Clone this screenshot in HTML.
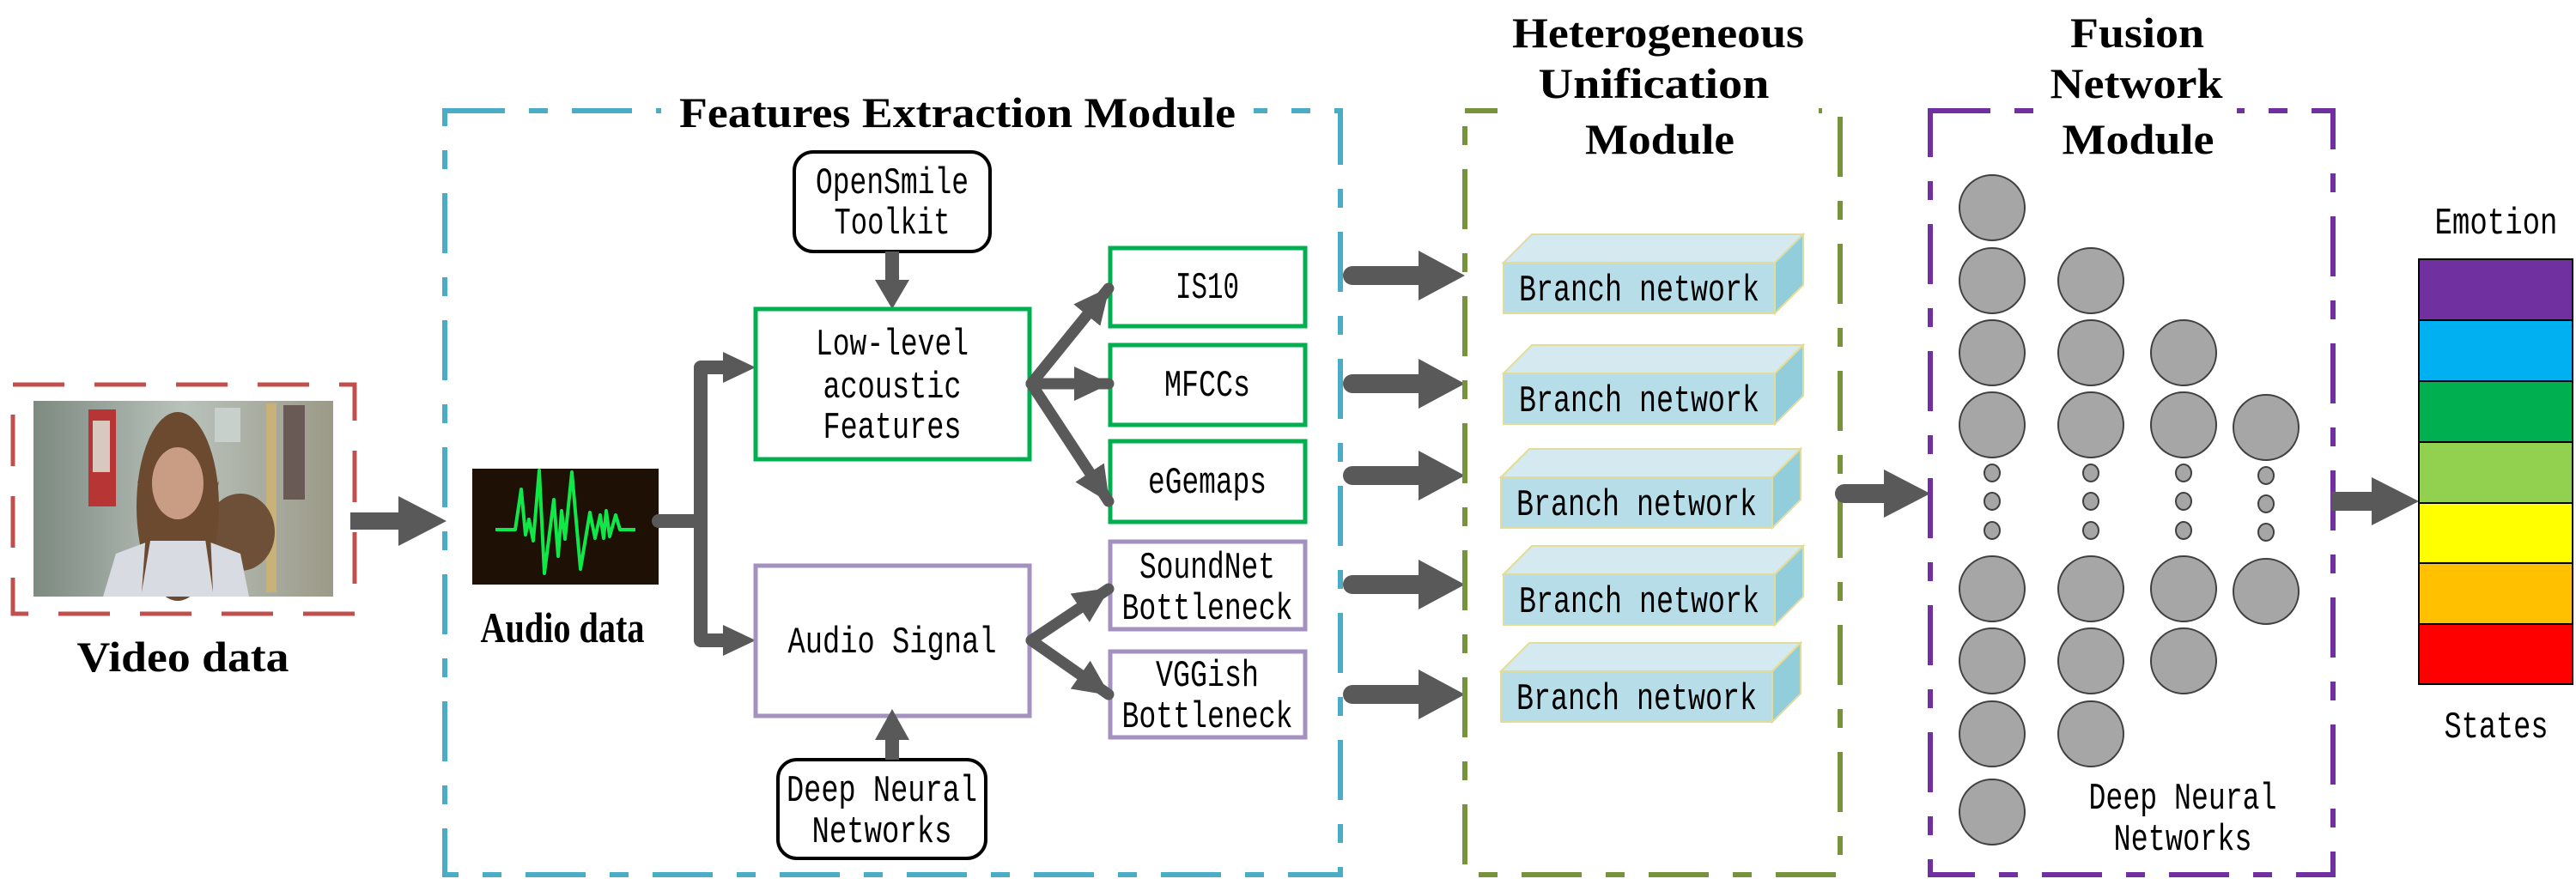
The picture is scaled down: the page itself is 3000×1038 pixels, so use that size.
<!DOCTYPE html>
<html><head><meta charset="utf-8"><style>
html,body{margin:0;padding:0;background:#fff;}
svg{display:block;}
.m{font-family:"Liberation Mono",monospace;font-size:44px;fill:#000;}
.b{font-family:"Liberation Serif",serif;font-weight:bold;font-size:50px;fill:#000;}
</style></head><body>
<svg width="3000" height="1038" viewBox="0 0 3000 1038" xmlns="http://www.w3.org/2000/svg">
<defs>
<marker id="ah" markerUnits="userSpaceOnUse" markerWidth="44" markerHeight="40" refX="40" refY="20" orient="auto">
<path d="M0,0 L42,20 L0,40 z" fill="#595959"/>
</marker>
<linearGradient id="bg" x1="0" x2="1"><stop offset="0" stop-color="#7d8a80"/><stop offset="0.5" stop-color="#b8c2bb"/><stop offset="1" stop-color="#9c9a88"/></linearGradient>
</defs>

<!-- Video -->
<rect x="15" y="448" width="398" height="267" fill="none" stroke="#c0504d" stroke-width="5" stroke-dasharray="60 35"/>
<rect x="39" y="467" width="349" height="228" fill="url(#bg)"/>
<rect x="103" y="477" width="32" height="113" fill="#b83535"/>
<rect x="108" y="490" width="20" height="60" fill="#d9c8c0"/>
<rect x="250" y="475" width="30" height="40" fill="#c8d0cc"/>
<rect x="330" y="472" width="25" height="110" fill="#6a5a55"/>
<rect x="310" y="470" width="12" height="220" fill="#c9b27a"/>
<ellipse cx="280" cy="620" rx="40" ry="45" fill="#6e5038"/>
<ellipse cx="207" cy="590" rx="48" ry="110" fill="#6b4a30"/>
<path d="M120,695 L135,645 L175,630 L240,630 L280,645 L290,695 z" fill="#d8dbe2"/>
<path d="M165,690 L170,620 L160,560 L180,600 z M248,690 L245,620 L255,560 L235,600 z" fill="#6b4a30"/>
<ellipse cx="207" cy="563" rx="30" ry="42" fill="#c99c84"/>
<text class="b" x="213" y="782" text-anchor="middle" textLength="247" lengthAdjust="spacingAndGlyphs" font-size="54">Video data</text>

<!-- video arrow -->
<polygon points="408,597 464,597 464,578 520,607 464,636 464,617 408,617" fill="#595959"/>

<!-- Features box -->
<rect x="518" y="129" width="1043" height="890" fill="none" stroke="#4bacc6" stroke-width="6" stroke-dasharray="70 28 22 28"/>
<rect x="770" y="100" width="690" height="60" fill="#fff"/>
<text class="b" x="1115" y="148" text-anchor="middle" textLength="648" lengthAdjust="spacingAndGlyphs" font-size="52">Features Extraction Module</text>

<!-- Audio image -->
<rect x="550" y="546" width="217" height="135" fill="#1e1004"/>
<polyline points="577,617 600,617 607,570 612,623 616,605 621,630 628,548 634,668 645,582 650,648 654,595 658,628 666,550 676,663 687,597 693,627 699,600 703,627 706,595 710,625 717,600 722,617 740,617" fill="none" stroke="#10e848" stroke-width="4" stroke-linejoin="round"/>
<text class="b" x="655" y="748" text-anchor="middle" textLength="191" lengthAdjust="spacingAndGlyphs" font-size="40">Audio data</text>

<!-- audio branch -->
<path d="M767,607 H816 M816,428 V746 M816,428 H845 M816,746 H845" fill="none" stroke="#595959" stroke-width="16" stroke-linecap="round"/>
<polygon points="842,410 880,428 842,446" fill="#595959"/>
<polygon points="842,728 880,746 842,764" fill="#595959"/>

<!-- OpenSmile -->
<rect x="925" y="177" width="228" height="116" rx="22" fill="#fff" stroke="#000" stroke-width="4"/>
<text class="m" x="1039" y="225" text-anchor="middle" textLength="178" lengthAdjust="spacingAndGlyphs">OpenSmile</text>
<text class="m" x="1039" y="272" text-anchor="middle" textLength="135" lengthAdjust="spacingAndGlyphs">Toolkit</text>
<rect x="1031" y="293" width="16" height="35" fill="#595959"/>
<polygon points="1019,326 1059,326 1039,360" fill="#595959"/>

<!-- Low-level -->
<rect x="880" y="360" width="319" height="175" fill="#fff" stroke="#00b050" stroke-width="5"/>
<text class="m" x="1039" y="413" text-anchor="middle" textLength="178" lengthAdjust="spacingAndGlyphs">Low-level</text>
<text class="m" x="1039" y="463" text-anchor="middle" textLength="161" lengthAdjust="spacingAndGlyphs">acoustic</text>
<text class="m" x="1039" y="510" text-anchor="middle" textLength="161" lengthAdjust="spacingAndGlyphs">Features</text>

<!-- Audio Signal -->
<rect x="880" y="659" width="319" height="175" fill="#fff" stroke="#a391c0" stroke-width="5"/>
<text class="m" x="1039" y="760" text-anchor="middle" textLength="243" lengthAdjust="spacingAndGlyphs">Audio Signal</text>

<!-- DNN box -->
<rect x="906" y="885" width="242" height="115" rx="22" fill="#fff" stroke="#000" stroke-width="4"/>
<text class="m" x="1027" y="933" text-anchor="middle" textLength="222" lengthAdjust="spacingAndGlyphs">Deep Neural</text>
<text class="m" x="1027" y="981" text-anchor="middle" textLength="163" lengthAdjust="spacingAndGlyphs">Networks</text>
<rect x="1031" y="860" width="16" height="25" fill="#595959"/>
<polygon points="1019,862 1059,862 1039,826" fill="#595959"/>

<!-- right feature boxes -->
<g fill="#fff" stroke-width="5">
<rect x="1293" y="289" width="227" height="91" stroke="#00b050"/>
<rect x="1293" y="402" width="227" height="93" stroke="#00b050"/>
<rect x="1293" y="514" width="227" height="94" stroke="#00b050"/>
<rect x="1293" y="631" width="227" height="102" stroke="#a391c0"/>
<rect x="1293" y="759" width="227" height="100" stroke="#a391c0"/>
</g>
<text class="m" x="1406" y="347" text-anchor="middle" textLength="74" lengthAdjust="spacingAndGlyphs">IS10</text>
<text class="m" x="1406" y="461" text-anchor="middle" textLength="100" lengthAdjust="spacingAndGlyphs">MFCCs</text>
<text class="m" x="1406" y="574" text-anchor="middle" textLength="138" lengthAdjust="spacingAndGlyphs">eGemaps</text>
<text class="m" x="1406" y="673" text-anchor="middle" textLength="158" lengthAdjust="spacingAndGlyphs">SoundNet</text>
<text class="m" x="1406" y="721" text-anchor="middle" textLength="199" lengthAdjust="spacingAndGlyphs">Bottleneck</text>
<text class="m" x="1406" y="799" text-anchor="middle" textLength="120" lengthAdjust="spacingAndGlyphs">VGGish</text>
<text class="m" x="1406" y="847" text-anchor="middle" textLength="199" lengthAdjust="spacingAndGlyphs">Bottleneck</text>

<!-- fork arrows -->
<g stroke="#595959" stroke-width="13" stroke-linecap="round" marker-end="url(#ah)">
<line x1="1201" y1="447" x2="1291" y2="336"/>
<line x1="1201" y1="447" x2="1291" y2="447"/>
<line x1="1201" y1="447" x2="1291" y2="584"/>
<line x1="1201" y1="746" x2="1291" y2="686"/>
<line x1="1201" y1="746" x2="1291" y2="809"/>
</g>

<!-- arrows to branch -->
<g fill="#595959">
<polygon points="1575,310 1652,310 1652,292 1706,321 1652,350 1652,332 1575,332"/>
<polygon points="1575,436 1652,436 1652,418 1706,447 1652,476 1652,458 1575,458"/>
<polygon points="1575,543 1652,543 1652,525 1706,554 1652,583 1652,565 1575,565"/>
<polygon points="1575,670 1652,670 1652,652 1706,681 1652,710 1652,692 1575,692"/>
<polygon points="1575,798 1652,798 1652,780 1706,809 1652,838 1652,820 1575,820"/>
<circle cx="1575" cy="321" r="11"/><circle cx="1575" cy="447" r="11"/><circle cx="1575" cy="554" r="11"/><circle cx="1575" cy="681" r="11"/><circle cx="1575" cy="809" r="11"/>
</g>

<!-- Hetero box -->
<rect x="1706" y="129" width="437" height="890" fill="none" stroke="#77933c" stroke-width="6" stroke-dasharray="70 28 22 28"/>
<rect x="1744" y="110" width="374" height="40" fill="#fff"/>
<text class="b" x="1931" y="55" text-anchor="middle" textLength="340" lengthAdjust="spacingAndGlyphs">Heterogeneous</text>
<text class="b" x="1926" y="114" text-anchor="middle" textLength="269" lengthAdjust="spacingAndGlyphs">Unification</text>
<text class="b" x="1933" y="179" text-anchor="middle" textLength="174" lengthAdjust="spacingAndGlyphs">Module</text>

<!-- branch boxes -->
<g stroke="#e2dc9a" stroke-width="2">
<g transform="translate(0,0)">
<polygon points="1751,306 1784,273 2100,273 2067,306" fill="#d4e9f0"/>
<polygon points="2067,306 2100,273 2100,332 2067,365" fill="#92cddc"/>
<rect x="1751" y="306" width="316" height="59" fill="#b7dde8"/>
</g>
<g transform="translate(0,129)">
<polygon points="1751,306 1784,273 2100,273 2067,306" fill="#d4e9f0"/>
<polygon points="2067,306 2100,273 2100,332 2067,365" fill="#92cddc"/>
<rect x="1751" y="306" width="316" height="59" fill="#b7dde8"/>
</g>
<g transform="translate(-3,250)">
<polygon points="1751,306 1784,273 2100,273 2067,306" fill="#d4e9f0"/>
<polygon points="2067,306 2100,273 2100,332 2067,365" fill="#92cddc"/>
<rect x="1751" y="306" width="316" height="59" fill="#b7dde8"/>
</g>
<g transform="translate(0,363)">
<polygon points="1751,306 1784,273 2100,273 2067,306" fill="#d4e9f0"/>
<polygon points="2067,306 2100,273 2100,332 2067,365" fill="#92cddc"/>
<rect x="1751" y="306" width="316" height="59" fill="#b7dde8"/>
</g>
<g transform="translate(-3,476)">
<polygon points="1751,306 1784,273 2100,273 2067,306" fill="#d4e9f0"/>
<polygon points="2067,306 2100,273 2100,332 2067,365" fill="#92cddc"/>
<rect x="1751" y="306" width="316" height="59" fill="#b7dde8"/>
</g>
</g>
<text class="m" x="1909" y="350" text-anchor="middle" textLength="280" lengthAdjust="spacingAndGlyphs">Branch network</text>
<text class="m" x="1909" y="479" text-anchor="middle" textLength="280" lengthAdjust="spacingAndGlyphs">Branch network</text>
<text class="m" x="1906" y="600" text-anchor="middle" textLength="280" lengthAdjust="spacingAndGlyphs">Branch network</text>
<text class="m" x="1909" y="713" text-anchor="middle" textLength="280" lengthAdjust="spacingAndGlyphs">Branch network</text>
<text class="m" x="1906" y="826" text-anchor="middle" textLength="280" lengthAdjust="spacingAndGlyphs">Branch network</text>

<!-- arrow to fusion -->
<polygon points="2147,564 2194,564 2194,547 2248,575 2194,603 2194,586 2147,586" fill="#595959"/>
<circle cx="2148" cy="575" r="11" fill="#595959"/>

<!-- Fusion box -->
<rect x="2248" y="129" width="469" height="890" fill="none" stroke="#7030a0" stroke-width="6" stroke-dasharray="70 28 22 28"/>
<rect x="2370" y="110" width="235" height="40" fill="#fff"/>
<text class="b" x="2489" y="55" text-anchor="middle" textLength="156" lengthAdjust="spacingAndGlyphs">Fusion</text>
<text class="b" x="2488" y="114" text-anchor="middle" textLength="201" lengthAdjust="spacingAndGlyphs">Network</text>
<text class="b" x="2490" y="179" text-anchor="middle" textLength="177" lengthAdjust="spacingAndGlyphs">Module</text>

<g fill="#a6a6a6" stroke="#404040" stroke-width="2">
<ellipse cx="2320" cy="242" rx="38" ry="38"/>
<ellipse cx="2320" cy="327" rx="38" ry="38"/>
<ellipse cx="2320" cy="411" rx="38" ry="38"/>
<ellipse cx="2320" cy="495" rx="38" ry="38"/>
<ellipse cx="2320" cy="686" rx="38" ry="38"/>
<ellipse cx="2320" cy="770" rx="38" ry="38"/>
<ellipse cx="2320" cy="855" rx="38" ry="38"/>
<ellipse cx="2320" cy="946" rx="38" ry="38"/>
<ellipse cx="2435" cy="327" rx="38" ry="38"/>
<ellipse cx="2435" cy="411" rx="38" ry="38"/>
<ellipse cx="2435" cy="495" rx="38" ry="38"/>
<ellipse cx="2435" cy="686" rx="38" ry="38"/>
<ellipse cx="2435" cy="770" rx="38" ry="38"/>
<ellipse cx="2435" cy="855" rx="38" ry="38"/>
<ellipse cx="2543" cy="411" rx="38" ry="38"/>
<ellipse cx="2543" cy="495" rx="38" ry="38"/>
<ellipse cx="2543" cy="686" rx="38" ry="38"/>
<ellipse cx="2543" cy="770" rx="38" ry="38"/>
<ellipse cx="2639" cy="498" rx="38" ry="38"/>
<ellipse cx="2639" cy="689" rx="38" ry="38"/>
<ellipse cx="2320" cy="551" rx="9" ry="10"/><ellipse cx="2320" cy="584" rx="9" ry="10"/><ellipse cx="2320" cy="618" rx="9" ry="10"/>
<ellipse cx="2435" cy="551" rx="9" ry="10"/><ellipse cx="2435" cy="584" rx="9" ry="10"/><ellipse cx="2435" cy="618" rx="9" ry="10"/>
<ellipse cx="2543" cy="551" rx="9" ry="10"/><ellipse cx="2543" cy="584" rx="9" ry="10"/><ellipse cx="2543" cy="618" rx="9" ry="10"/>
<ellipse cx="2639" cy="554" rx="9" ry="10"/><ellipse cx="2639" cy="587" rx="9" ry="10"/><ellipse cx="2639" cy="620" rx="9" ry="10"/>
</g>
<text class="m" x="2542" y="942" text-anchor="middle" textLength="219" lengthAdjust="spacingAndGlyphs">Deep Neural</text>
<text class="m" x="2542" y="990" text-anchor="middle" textLength="161" lengthAdjust="spacingAndGlyphs">Networks</text>

<!-- arrow to emotion -->
<polygon points="2715,573 2762,573 2762,556 2817,584 2762,612 2762,595 2715,595" fill="#595959"/>

<!-- emotion bar -->
<g stroke="#000" stroke-width="2">
<rect x="2817" y="302" width="179" height="71" fill="#7030a0"/>
<rect x="2817" y="373" width="179" height="71" fill="#00b0f0"/>
<rect x="2817" y="444" width="179" height="71" fill="#00b050"/>
<rect x="2817" y="515" width="179" height="71" fill="#92d050"/>
<rect x="2817" y="586" width="179" height="70" fill="#ffff00"/>
<rect x="2817" y="656" width="179" height="71" fill="#ffc000"/>
<rect x="2817" y="727" width="179" height="70" fill="#ff0000"/>
</g>
<text class="m" x="2907" y="272" text-anchor="middle" textLength="143" lengthAdjust="spacingAndGlyphs">Emotion</text>
<text class="m" x="2907" y="859" text-anchor="middle" textLength="121" lengthAdjust="spacingAndGlyphs">States</text>
</svg>
</body></html>
